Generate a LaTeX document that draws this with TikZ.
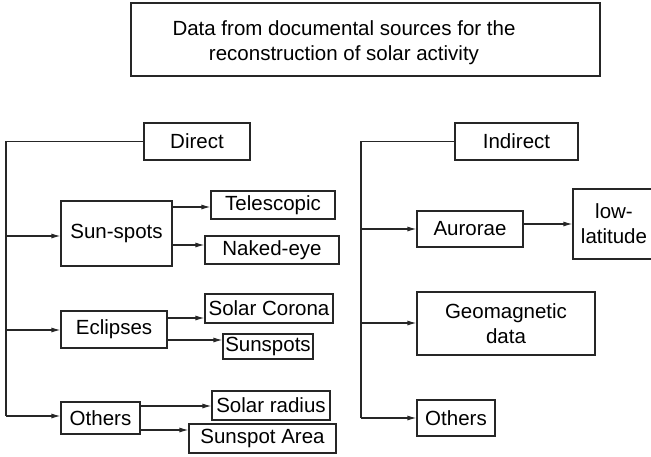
\documentclass[tikz,border=0pt]{standalone}
\usepackage{fontspec}
\setmainfont{Liberation Sans}
\usetikzlibrary{arrows.meta}
\begin{document}
\begin{tikzpicture}[x=1pt,y=-1pt,
  bx/.style={draw=black!85, line width=1.1pt, inner sep=0pt, align=center,
    font=\fontsize{20.5}{25}\selectfont},
  ln/.style={draw=black!85, line width=1.1pt},
  arr/.style={ln, -{Latex[length=9pt,width=5pt]}}]
\useasboundingbox (0,0) rectangle (651,456);
\coordinate (L) at (6,0);
\coordinate (R) at (361,0);
% title
\node[bx, minimum width=469, minimum height=73] (title) at (365.5,39.5)
  {\hspace*{-43pt}\raisebox{-3pt}[\height][\depth]{\begin{tabular}{@{}c@{}}Data from documental sources for the\\reconstruction of solar activity\end{tabular}}};
% left branch
\node[bx, minimum width=106, minimum height=37] (direct) at (197,141.5) {Direct};
\node[bx, minimum width=111, minimum height=65] (sun) at (116.5,233.5) {Sun-spots};
\node[bx, minimum width=124, minimum height=28] (tel) at (273,205) {Telescopic};
\node[bx, minimum width=134, minimum height=28] (naked) at (272,250) {Naked-eye};
\node[bx, minimum width=106, minimum height=37] (ecl) at (114,329.5) {Eclipses};
\node[bx, minimum width=128, minimum height=29] (corona) at (269,308.5) {Solar Corona};
\node[bx, minimum width=90, minimum height=25] (spots) at (268,346.5) {Sunspots};
\node[bx, minimum width=79, minimum height=32] (othL) at (100.5,418) {Others};
\node[bx, minimum width=118, minimum height=29] (radius) at (271,405.5) {Solar radius};
\node[bx, minimum width=147, minimum height=29] (area) at (262.5,438.5) {Sunspot Area};
% right branch
\node[bx, minimum width=123, minimum height=37] (indirect) at (516.5,141.5) {Indirect};
\node[bx, minimum width=106, minimum height=36] (aur) at (470,229) {Aurorae};
\node[bx, minimum width=82, minimum height=70] (low) at (614,224) {low-\\latitude};
\node[bx, minimum width=178, minimum height=63] (geo) at (506,323.5) {Geomagnetic\\data};
\node[bx, minimum width=78, minimum height=36] (othR) at (456,418) {Others};
% left connectors
\draw[ln] (direct.west) -- (direct.west -| L) -- (L |- 0,416);
\draw[arr] (L |- 0,236) -- (sun.west |- 0,236);
\draw[arr] (L |- 0,330) -- (ecl.west |- 0,330);
\draw[arr] (L |- 0,416) -- (othL.west |- 0,416);
\draw[arr] (sun.east |- 0,207) -- (tel.west |- 0,207);
\draw[arr] (sun.east |- 0,245) -- (naked.west |- 0,245);
\draw[arr] (ecl.east |- 0,318) -- (corona.west |- 0,318);
\draw[arr] (ecl.east |- 0,340) -- (spots.west |- 0,340);
\draw[arr] (othL.east |- 0,406) -- (radius.west |- 0,406);
\draw[arr] (othL.east |- 0,430) -- (area.west |- 0,430);
% right connectors
\draw[ln] (indirect.west) -- (indirect.west -| R) -- (R |- 0,418);
\draw[arr] (R |- 0,229) -- (aur.west |- 0,229);
\draw[arr] (R |- 0,323) -- (geo.west |- 0,323);
\draw[arr] (R |- 0,418) -- (othR.west |- 0,418);
\draw[arr] (aur.east |- 0,224) -- (low.west |- 0,224);
\end{tikzpicture}
\end{document}
